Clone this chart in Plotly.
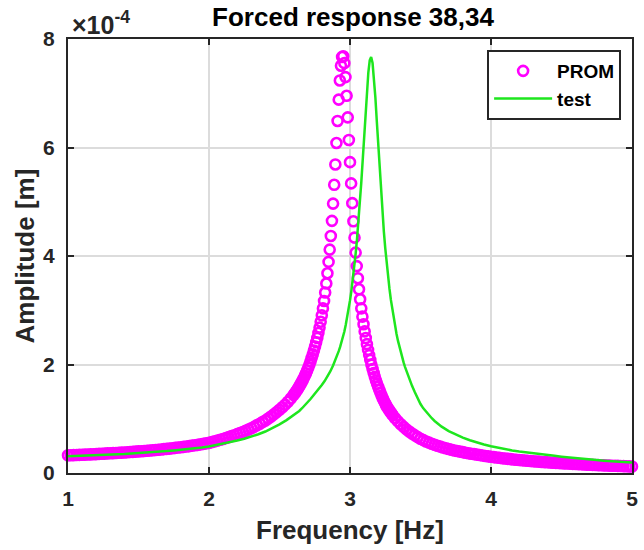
import plotly.graph_objects as go

# ---------------- data (amplitude in units of 1e-4 m) ----------------
prom_freq = [
    1.00, 1.02, 1.04, 1.06, 1.08, 1.10, 1.12, 1.14, 1.16, 1.18, 1.20, 1.22, 1.24, 1.26, 1.28, 1.30,
    1.32, 1.34, 1.36, 1.38, 1.40, 1.42, 1.44, 1.46, 1.48, 1.50, 1.52, 1.54, 1.56, 1.58, 1.60, 1.62,
    1.64, 1.66, 1.68, 1.70, 1.72, 1.74, 1.76, 1.78, 1.80, 1.82, 1.84, 1.86, 1.88, 1.90, 1.92, 1.94,
    1.96, 1.98, 2.00, 2.02, 2.04, 2.06, 2.08, 2.10, 2.12, 2.14, 2.16, 2.18, 2.20, 2.22, 2.24, 2.26,
    2.28, 2.30, 2.32, 2.34, 2.36, 2.38, 2.40, 2.42, 2.44, 2.46, 2.48, 2.50, 2.52, 2.54, 2.56, 2.58,
    2.600, 2.608, 2.616, 2.624, 2.632, 2.640, 2.648, 2.656, 2.664, 2.672, 2.680, 2.688, 2.696, 2.704,
    2.712, 2.720, 2.728, 2.736, 2.744, 2.752, 2.760, 2.768, 2.776, 2.784, 2.792, 2.800, 2.808, 2.816,
    2.824, 2.832, 2.840, 2.848, 2.856, 2.864, 2.872, 2.880, 2.888, 2.896, 2.904, 2.912, 2.920, 2.928,
    2.936, 2.944, 2.952, 2.960, 2.968, 2.976, 2.984, 2.992, 3.000, 3.008, 3.016, 3.024, 3.032, 3.040,
    3.048, 3.056, 3.064, 3.072, 3.080, 3.088, 3.096, 3.104, 3.112, 3.120, 3.128, 3.136, 3.144, 3.152,
    3.160, 3.168, 3.176, 3.184, 3.192, 3.200, 3.208, 3.216, 3.224, 3.232, 3.240, 3.248, 3.256, 3.264,
    3.272, 3.280, 3.288, 3.296, 3.304,
    3.32, 3.34, 3.36, 3.38, 3.40, 3.42, 3.44, 3.46, 3.48, 3.50, 3.52, 3.54, 3.56, 3.58, 3.60, 3.62,
    3.64, 3.66, 3.68, 3.70, 3.72, 3.74, 3.76, 3.78, 3.80, 3.82, 3.84, 3.86, 3.88, 3.90, 3.92, 3.94,
    3.96, 3.98, 4.00, 4.02, 4.04, 4.06, 4.08, 4.10, 4.12, 4.14, 4.16, 4.18, 4.20, 4.22, 4.24, 4.26,
    4.28, 4.30, 4.32, 4.34, 4.36, 4.38, 4.40, 4.42, 4.44, 4.46, 4.48, 4.50, 4.52, 4.54, 4.56, 4.58,
    4.60, 4.62, 4.64, 4.66, 4.68, 4.70, 4.72, 4.74, 4.76, 4.78, 4.80, 4.82, 4.84, 4.86, 4.88, 4.90,
    4.92, 4.94, 4.96, 4.98, 5.00,
]
prom_amp = [
    0.326, 0.328, 0.330, 0.332, 0.334, 0.336, 0.339, 0.342, 0.344, 0.346, 0.348, 0.352, 0.354, 0.357, 0.361, 0.363,
    0.366, 0.369, 0.373, 0.376, 0.379, 0.382, 0.386, 0.390, 0.394, 0.398, 0.401, 0.406, 0.410, 0.415, 0.420, 0.425,
    0.429, 0.434, 0.440, 0.445, 0.450, 0.456, 0.463, 0.469, 0.475, 0.482, 0.489, 0.496, 0.504, 0.512, 0.519, 0.528,
    0.537, 0.546, 0.555, 0.569, 0.583, 0.597, 0.613, 0.628, 0.644, 0.661, 0.679, 0.697, 0.716, 0.736, 0.757, 0.778,
    0.801, 0.825, 0.851, 0.879, 0.908, 0.939, 0.968, 1.004, 1.041, 1.081, 1.123, 1.167, 1.212, 1.260, 1.314, 1.373,
    1.438, 1.467, 1.496, 1.527, 1.560, 1.594, 1.630, 1.668, 1.707, 1.749, 1.793, 1.840, 1.889, 1.942,
    1.997, 2.057, 2.120, 2.187, 2.259, 2.332, 2.410, 2.489, 2.580, 2.680, 2.788, 2.906, 3.034, 3.171,
    3.326, 3.493, 3.682, 3.891, 4.118, 4.369, 4.648, 4.966, 5.313, 5.688, 6.083, 6.489, 6.882, 7.236,
    7.508, 7.667, 7.683, 7.555, 7.298, 6.953, 6.556, 6.139, 5.730, 5.338, 4.974, 4.640, 4.338, 4.063,
    3.814, 3.590, 3.387, 3.202, 3.035, 2.882, 2.743, 2.610, 2.488, 2.375, 2.270, 2.173, 2.082, 1.997,
    1.918, 1.843, 1.773, 1.708, 1.645, 1.586, 1.531, 1.478, 1.428, 1.380, 1.334, 1.291, 1.249, 1.214,
    1.181, 1.149, 1.119, 1.090, 1.062,
    1.010, 0.952, 0.898, 0.850, 0.805, 0.765, 0.727, 0.693, 0.661, 0.631, 0.606, 0.582, 0.560, 0.540, 0.520, 0.502,
    0.486, 0.470, 0.455, 0.442, 0.429, 0.416, 0.405, 0.394, 0.384, 0.374, 0.365, 0.356, 0.348, 0.339, 0.331, 0.323,
    0.314, 0.307, 0.299, 0.293, 0.286, 0.280, 0.273, 0.267, 0.261, 0.255, 0.250, 0.245, 0.239, 0.235, 0.230, 0.225,
    0.221, 0.217, 0.212, 0.209, 0.204, 0.201, 0.197, 0.194, 0.190, 0.187, 0.184, 0.181, 0.178, 0.174, 0.172, 0.169,
    0.166, 0.164, 0.161, 0.158, 0.155, 0.153, 0.150, 0.148, 0.145, 0.144, 0.141, 0.139, 0.136, 0.135, 0.133, 0.131,
    0.128, 0.126, 0.124, 0.122, 0.120,
]

test_freq = [
    1.00, 1.05, 1.10, 1.15, 1.20, 1.25, 1.30, 1.35, 1.40, 1.45, 1.50, 1.55, 1.60, 1.65, 1.70, 1.75,
    1.80, 1.85, 1.90, 1.95, 2.00, 2.05, 2.10, 2.15, 2.20, 2.25, 2.30, 2.35, 2.40, 2.45, 2.50, 2.55, 2.60,
    2.62, 2.64, 2.66, 2.68, 2.70, 2.72, 2.74, 2.76, 2.78, 2.80, 2.82, 2.84, 2.86, 2.88,
    2.89, 2.90, 2.91, 2.92, 2.93, 2.94, 2.95, 2.96, 2.97, 2.98, 2.99, 3.00, 3.01, 3.02, 3.03, 3.04,
    3.05, 3.06, 3.07, 3.08, 3.09, 3.10, 3.11, 3.12, 3.13, 3.14, 3.15, 3.16, 3.17, 3.18, 3.19, 3.20,
    3.21, 3.22, 3.23, 3.24, 3.25, 3.26, 3.27, 3.28, 3.29, 3.30, 3.31, 3.32, 3.33, 3.34, 3.35, 3.36,
    3.37, 3.38, 3.39, 3.40,
    3.42, 3.44, 3.46, 3.48, 3.50, 3.52, 3.54, 3.56, 3.58, 3.60,
    3.65, 3.70, 3.75, 3.80, 3.85, 3.90, 3.95, 4.00, 4.05, 4.10, 4.15, 4.20, 4.25, 4.30, 4.35, 4.40,
    4.45, 4.50, 4.55, 4.60, 4.65, 4.70, 4.75, 4.80, 4.85, 4.90, 4.95, 5.00,
]
test_amp = [
    0.310, 0.314, 0.318, 0.323, 0.328, 0.333, 0.339, 0.344, 0.351, 0.359, 0.366, 0.375, 0.384, 0.394, 0.404, 0.416,
    0.428, 0.442, 0.456, 0.472, 0.490, 0.514, 0.540, 0.568, 0.599, 0.632, 0.670, 0.714, 0.765, 0.827, 0.896, 0.975, 1.064,
    1.103, 1.144, 1.194, 1.246, 1.303, 1.363, 1.428, 1.489, 1.556, 1.621, 1.694, 1.776, 1.871, 1.981,
    2.042, 2.108, 2.174, 2.246, 2.324, 2.410, 2.504, 2.608, 2.732, 2.868, 3.017, 3.182, 3.363, 3.566, 3.790, 4.040,
    4.319, 4.629, 4.974, 5.353, 5.763, 6.197, 6.634, 7.041, 7.382, 7.605, 7.667, 7.557, 7.295, 6.922, 6.489, 6.038,
    5.596, 5.181, 4.800, 4.454, 4.144, 3.866, 3.616, 3.392, 3.191, 3.010, 2.847, 2.698, 2.563, 2.439, 2.326, 2.223,
    2.127, 2.039, 1.957, 1.882,
    1.735, 1.607, 1.487, 1.369, 1.271, 1.192, 1.125, 1.065, 1.010, 0.959,
    0.855, 0.773, 0.706, 0.653, 0.604, 0.561, 0.525, 0.494, 0.464, 0.438, 0.415, 0.395, 0.377, 0.360, 0.344, 0.330,
    0.316, 0.301, 0.286, 0.273, 0.261, 0.249, 0.239, 0.228, 0.219, 0.210, 0.201, 0.192,
]

x_ticks = [1, 2, 3, 4, 5]
y_ticks = [0, 2, 4, 6, 8]
y_ticklabels = ["0", "2", "4", "6", "8"]

# ---------------- styling ----------------
AX = "#262626"
FONT = "Liberation Sans, Arial, Helvetica, sans-serif"
W, H = 644, 550
L, R, T, B = 68, 6, 39, 77
plot_w = W - L - R
plot_h = H - T - B

fig = go.Figure()
fig.add_trace(go.Scatter(
    x=prom_freq, y=prom_amp, mode="markers", name="PROM",
    marker=dict(symbol="circle-open", size=10, color="#ff00ff",
                line=dict(width=2.6, color="#ff00ff")),
    cliponaxis=False,
))
fig.add_trace(go.Scatter(
    x=test_freq, y=test_amp, mode="lines", name="test",
    line=dict(color="#1ee61e", width=2.5),
))

axis_common = dict(
    showline=True, linecolor=AX, linewidth=2.2, mirror="ticks",
    ticks="inside", ticklen=6, tickwidth=2, tickcolor=AX,
    showgrid=True, gridcolor="#dcdcdc", gridwidth=1.6, zeroline=False,
    tickfont=dict(family=FONT, size=21, color=AX, weight="bold"),
)

fig.update_xaxes(range=[1, 5], tickvals=x_ticks, ticklabelstandoff=6, **axis_common)
fig.update_yaxes(range=[0, 8], tickvals=y_ticks, ticktext=y_ticklabels, ticklabelstandoff=7, **axis_common)

fig.update_layout(
    width=W, height=H,
    margin=dict(l=L, r=R, t=T, b=B),
    paper_bgcolor="white", plot_bgcolor="white",
    font=dict(family=FONT, size=20, color=AX),
    title=dict(text="Forced response 38,34", x=(L + plot_w / 2) / W, xanchor="center",
               y=1 - 17 / H, yanchor="middle",
               font=dict(family=FONT, size=26, color="black", weight="bold")),
    showlegend=True,
    legend=dict(x=(627 - L) / plot_w, xanchor="right", y=(T + plot_h - 50) / plot_h, yanchor="top",
                bgcolor="white", bordercolor=AX, borderwidth=2,
                font=dict(family=FONT, size=19, color="black", weight="bold"),
                itemwidth=58, tracegroupgap=0),
    annotations=[
        dict(text="Frequency [Hz]", xref="paper", yref="paper", x=0.5, y=(T + plot_h - 530) / plot_h,
             xanchor="center", yanchor="middle", showarrow=False,
             font=dict(family=FONT, size=26, color=AX, weight="bold")),
        dict(text="Amplitude [m]", xref="paper", yref="paper", x=(25 - L) / plot_w, y=0.5,
             xanchor="center", yanchor="middle", textangle=-90, showarrow=False,
             font=dict(family=FONT, size=26, color=AX, weight="bold")),
        dict(text="\u00d710<sup>-4</sup>", xref="paper", yref="paper", x=0, y=1,
             xanchor="left", yanchor="bottom", xshift=2, yshift=-2, showarrow=False,
             font=dict(family=FONT, size=25, color=AX, weight="bold")),
    ],
)

fig.write_html("out.html")
